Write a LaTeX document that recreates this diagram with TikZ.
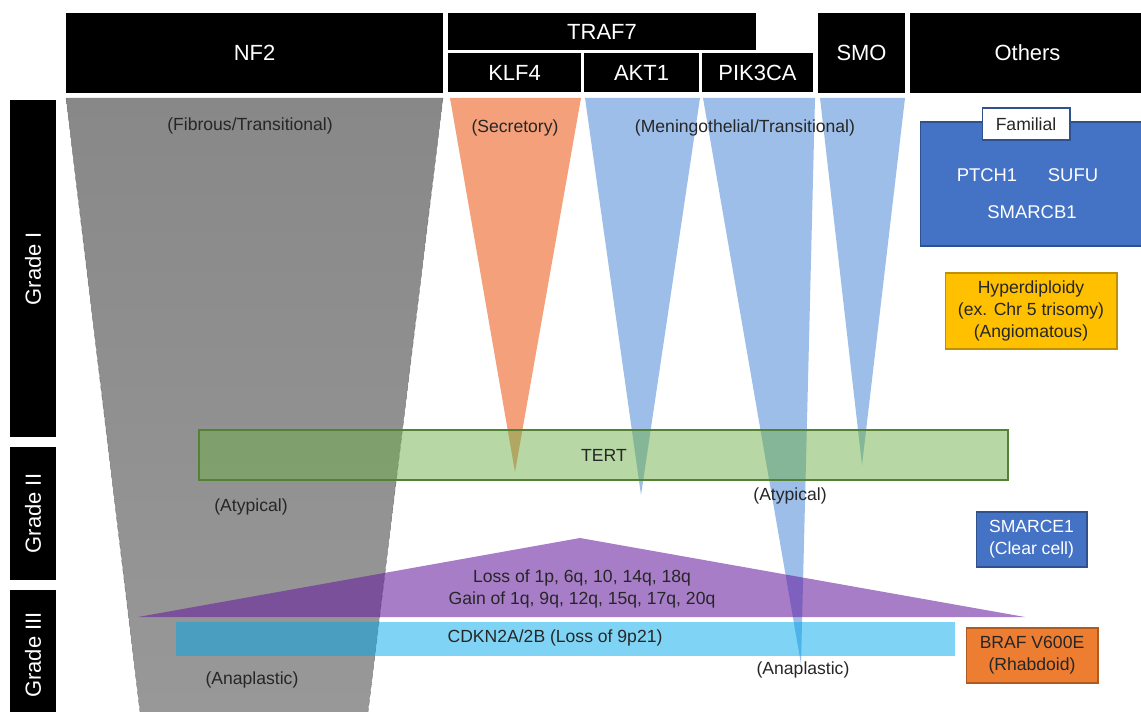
\documentclass[tikz,border=0pt]{standalone}
\usepackage{fontspec}
\setmainfont{Liberation Sans}
\usetikzlibrary{calc}

\definecolor{nfgraytop}{RGB}{136,136,136}
\definecolor{nfgraybot}{RGB}{152,152,152}
\definecolor{klforange}{RGB}{244,160,122}
\definecolor{pikblue}{RGB}{132,174,226}
\definecolor{tertfill}{RGB}{111,175,75}
\definecolor{tertline}{RGB}{84,130,53}
\definecolor{lossviolet}{RGB}{105,31,160}
\definecolor{cdkncyan}{RGB}{0,169,235}
\definecolor{famblue}{RGB}{68,114,196}
\definecolor{famline}{RGB}{47,82,143}
\definecolor{hypyellow}{RGB}{255,192,0}
\definecolor{hypline}{RGB}{191,144,0}
\definecolor{brafor}{RGB}{237,125,49}
\definecolor{brafline}{RGB}{174,90,33}

\newcommand{\hdrfont}{\fontsize{12.5}{15}\selectfont}
\newcommand{\lblfont}{\fontsize{10}{12.5}\selectfont}

\tikzset{
  hdr/.style={fill=black,text=white,font=\hdrfont,inner sep=0pt,outer sep=0pt},
  grade/.style={hdr,rotate=90,minimum height=0.92cm},
  lbl/.style={font=\lblfont,text=black!85,align=center,inner sep=1pt},
  infobox/.style={font=\lblfont,align=center,inner sep=0pt,line width=0.6pt},
}

\begin{document}
\begin{tikzpicture}[x=0.02cm,y=-0.02cm]
  \useasboundingbox (0,0) rectangle (1141,712);
  % intestazioni dei geni
  \node [hdr,minimum width=7.54cm,minimum height=1.6cm] (nf2) at (254.5,53) {NF2};
  \node [hdr,minimum width=6.16cm,minimum height=0.74cm] (traf7) at (602,31.5) {TRAF7};
  \node [hdr,minimum width=2.66cm,minimum height=0.78cm] (klf4) at (514.5,72.5) {KLF4};
  \node [hdr,minimum width=2.30cm,minimum height=0.78cm] (akt1) at (641.5,72.5) {AKT1};
  \node [hdr,minimum width=2.22cm,minimum height=0.78cm] (pik3ca) at (757.5,72.5) {PIK3CA};
  \node [hdr,minimum width=1.74cm,minimum height=1.6cm] (smo) at (861.5,53) {SMO};
  \node [hdr,minimum width=4.70cm,minimum height=1.6cm] (others) at (1027.5,53) {Others};
  % gradi
  \node [grade,minimum width=6.74cm] (gradeI) at (33,268.5) {Grade I};
  \node [grade,minimum width=2.66cm] (gradeII) at (33,513.5) {Grade II};
  \node [grade,minimum width=2.60cm] (gradeIII) at (33,655) {Grade III};
  % trapezio NF2
  \shade [top color=nfgraytop,bottom color=nfgraybot]
         (66,98) -- (443,98) -- (368,712) -- (140,712) -- cycle;
  \draw [densely dashed,black!60,very thin] (66,98) -- (140,712);
  \draw [densely dashed,black!60,very thin] (443,98) -- (368,712);
  % triangoli KLF4, AKT1, PIK3CA, SMO
  \fill [klforange] (450,98) -- (581,98) -- (515,472) -- cycle;
  \fill [pikblue,opacity=0.8] (585,98) -- (700,98) -- (641,495) -- cycle;
  \fill [pikblue,opacity=0.8] (703,98) -- (815,98) -- (801,664) -- cycle;
  \fill [pikblue,opacity=0.8] (820,98) -- (905,98) -- (862,465) -- cycle;
  % perdite e guadagni cromosomici
  \fill [lossviolet,opacity=0.58] (138,617) -- (580,538) -- (1025,617) -- cycle;
  \fill [cdkncyan,opacity=0.5] (176,622) rectangle (955,656);
  % TERT
  \draw [tertline,fill=tertfill,fill opacity=0.5,line width=0.8pt]
        (199,430) rectangle (1008,480);
  % etichette
  \node [lbl] (fibrous) at (250,126) {(Fibrous/Transitional)};
  \node [lbl] (secretory) at (515,128) {(Secretory)};
  \node [lbl] (meningo) at (745,128) {(Meningothelial/Transitional)};
  \node [lbl] (tert) at (604,455) {TERT};
  \node [lbl] (atyp1) at (251,507) {(Atypical)};
  \node [lbl] (atyp2) at (790,496) {(Atypical)};
  \node [lbl] (lossgain) at (582,589) {Loss of 1p, 6q, 10, 14q, 18q\\Gain of 1q, 9q, 12q, 15q, 17q, 20q};
  \node [lbl] (cdkn) at (555,638) {CDKN2A/2B (Loss of 9p21)};
  \node [lbl] (anapl1) at (252,680) {(Anaplastic)};
  \node [lbl] (anapl2) at (803,670) {(Anaplastic)};
  % altri
  \node [infobox,fill=famblue,draw=famline,minimum width=4.5cm,minimum height=2.48cm] (familial) at (1032.5,184) {};
  \node [infobox,fill=white,draw=famline,text=black!85,minimum width=1.76cm,minimum height=0.64cm] (famtag) at (1026,124) {Familial};
  \node [lbl,text=white,font=\fontsize{10.5}{12.5}\selectfont] (ptch1) at (987,175) {PTCH1};
  \node [lbl,text=white,font=\fontsize{10.5}{12.5}\selectfont] (sufu) at (1073,175) {SUFU};
  \node [lbl,text=white,font=\fontsize{10.5}{12.5}\selectfont] (smarcb1) at (1032,212) {SMARCB1};
  \node [infobox,fill=hypyellow,draw=hypline,text=black!85,minimum width=3.44cm,minimum height=1.52cm] (hyper) at (1031,311) {Hyperdiploidy\\(ex. Chr 5 trisomy)\\(Angiomatous)};
  \node [infobox,fill=famblue,draw=famline,text=white,minimum width=2.22cm,minimum height=1.1cm] (smarce1) at (1031.5,539.5) {SMARCE1\\(Clear cell)};
  \node [infobox,fill=brafor,draw=brafline,text=black!85,minimum width=2.64cm,minimum height=1.1cm] (braf) at (1032,655.5) {BRAF V600E\\(Rhabdoid)};
\end{tikzpicture}
\end{document}
